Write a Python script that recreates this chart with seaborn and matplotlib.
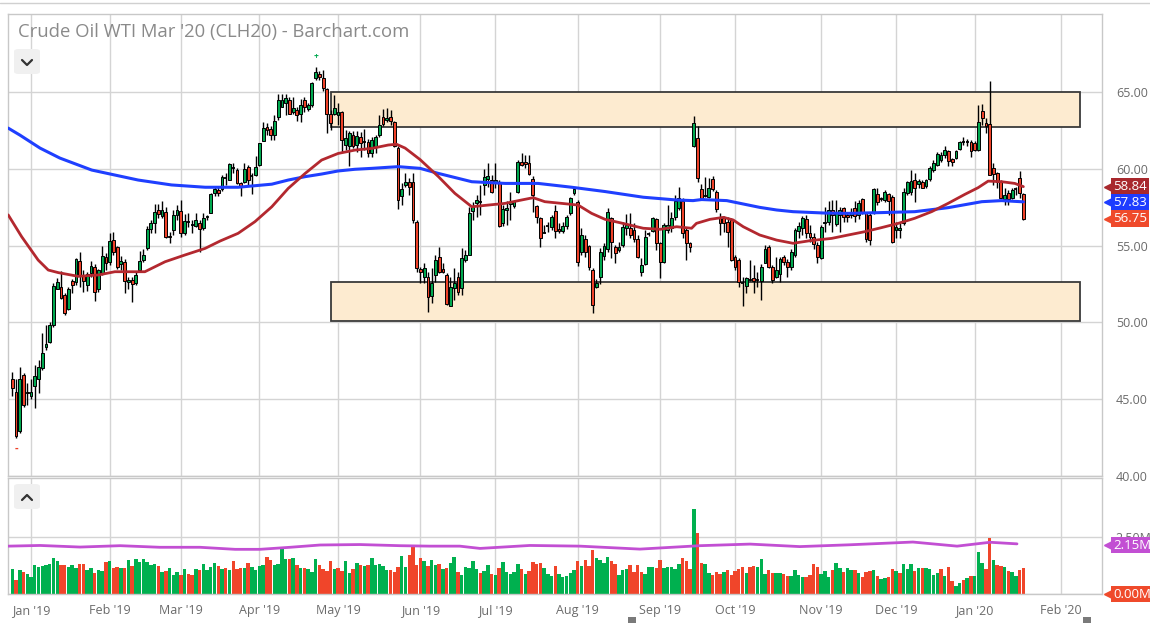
import numpy as np
import pandas as pd
import seaborn as sns
import matplotlib.pyplot as plt
import matplotlib.transforms as mtransforms
from matplotlib.patches import Rectangle, FancyBboxPatch
from matplotlib.lines import Line2D

sns.set_theme(style="white")
plt.rcParams['font.family'] = ['Open Sans', 'DejaVu Sans']

# ---- data ----
title = "Crude Oil WTI Mar '20 (CLH20) - Barchart.com"
first_day, last_day = '2018-12-24', '2020-01-22'
holidays = ['2018-12-25', '2019-01-01', '2019-01-21', '2019-02-18', '2019-04-19',
            '2019-05-27', '2019-07-04', '2019-09-02', '2019-11-28', '2019-12-25',
            '2020-01-01', '2020-01-20']

opens = [
    46.3, 45.5, 42.9, 46.6, 45.5, 45.2, 45.86, 46.3, 47.0, 48.4,
    48.75, 49.8, 52.2, 52.3, 51.8, 50.85, 52.7, 52.6, 54.0, 53.0,
    52.43, 53.2, 53.6, 52.15, 53.24, 54.28, 53.95, 55.37, 54.9, 53.78,
    53.95, 52.6, 52.75, 52.55, 53.4, 54.06, 54.84, 56.1, 56.47, 57.32,
    56.9, 57.2, 55.62, 56.0, 57.0, 57.27, 55.84, 56.58, 56.36, 56.28,
    56.45, 56.13, 56.85, 57.15, 58.4,
    58.6, 58.7, 59.42, 59.3, 60.05, 59.9, 59.05, 59.16, 60.15, 59.52,
    59.58, 60.25, 61.84, 62.72, 62.6, 62.2, 63.4, 64.05, 64.27, 64.5,
    63.7, 63.8, 63.6, 64.5, 63.87, 64.15, 65.9, 66.2, 65.9, 65.17,
    63.57, 63.57, 63.5, 63.68, 61.55, 61.47, 62.2, 61.55, 62.1, 61.79,
    61.77, 61.0, 61.4, 62.2, 63.35, 63.18, 63.35, 63.07, 61.33, 58.23,
    58.95, 59.17, 59.17,
    56.56, 53.46, 52.95, 52.94, 51.72, 53.09, 54.28, 53.46, 53.09, 51.07,
    52.22, 52.94, 52.22, 54.06, 54.39, 57.28, 57.75, 57.88, 58.95, 59.32,
    59.24, 59.06, 59.17, 56.5, 57.3, 57.71, 57.58, 58.52, 60.47, 60.47,
    60.36, 59.32, 57.58, 56.78, 55.86, 56.3, 56.19, 57.28, 56.1, 55.98,
    56.28, 57.1, 58.41, 57.86, 54.6, 55.4, 54.97, 53.41, 52.33, 52.94,
    54.32, 54.77, 56.78, 54.93,
    54.71, 55.04, 56.12, 56.12, 56.0, 55.4, 53.3, 53.8, 55.78, 55.93,
    56.73, 55.2, 53.95, 56.02, 56.12, 56.84, 57.43, 57.93, 56.0, 55.2,
    61.48, 62.0, 58.66, 58.25, 58.15, 59.32, 58.52, 56.84, 56.78, 56.56,
    56.67, 54.28, 54.06, 52.57, 52.37, 52.78, 52.87, 52.75, 52.71, 53.89,
    54.93, 53.63, 52.97, 53.15, 54.28, 53.95, 53.63, 54.39, 55.98, 56.12,
    56.73, 55.84, 55.58, 55.04, 54.17,
    56.45, 56.56, 57.32, 56.4, 57.0, 57.43, 57.0, 56.99, 57.43, 56.99,
    58.03, 57.1, 56.99, 57.1, 58.34, 58.05, 57.97, 58.34, 58.19, 56.02,
    56.02, 56.45, 58.41, 58.52, 59.27, 58.99, 59.12, 58.9, 59.34, 59.92,
    60.25, 60.57, 60.87, 61.16, 60.64, 60.7, 61.29, 61.77, 61.77, 61.75,
    61.68, 61.23, 63.76, 62.96, 62.92, 60.03, 59.7, 59.12, 58.03, 58.41,
    58.13, 58.7, 59.38, 58.34]

highs = [
    46.8, 46.3, 47.1, 46.7, 46.05, 46.3, 47.2, 47.55, 49.3, 49.8,
    50.05, 52.55, 52.9, 53.35, 51.9, 52.3, 52.8, 54.17, 54.6, 53.4,
    53.3, 54.0, 53.8, 53.46, 54.97, 54.5, 55.8, 55.9, 54.98, 54.3,
    54.1, 52.97, 52.97, 53.3, 54.65, 54.8, 56.28, 56.7, 57.7, 57.7,
    57.9, 57.5, 55.9, 57.3, 57.64, 57.97, 57.06, 57.1, 56.67, 57.1,
    56.7, 57.1, 57.0, 58.4, 58.83,
    58.8, 59.6, 59.7, 60.36, 60.36, 60.03, 59.16, 60.36, 60.27, 59.7,
    60.83, 61.7, 63.07, 62.96, 62.77, 63.5, 64.9, 64.87, 64.9, 64.65,
    64.65, 64.04, 64.53, 64.65, 64.3, 65.67, 66.6, 66.4, 66.43, 65.24,
    63.83, 64.8, 64.26, 63.74, 62.53, 62.48, 62.48, 62.48, 62.4, 62.57,
    61.92, 62.1, 62.2, 63.5, 63.9, 63.96, 63.8, 63.13, 61.48, 59.1,
    59.7, 59.4, 59.7,
    56.67, 53.63, 53.85, 53.3, 53.52, 54.39, 54.93, 53.85, 53.2, 52.97,
    53.52, 53.3, 54.82, 54.71, 57.53, 57.86, 58.3, 58.95, 59.97, 60.41,
    59.6, 60.36, 59.27, 57.64, 57.9, 58.52, 58.0, 60.57, 61.02, 60.9,
    60.9, 59.5, 57.64, 56.89, 56.34, 56.56, 56.99, 57.64, 56.45, 56.56,
    56.99, 58.19, 58.84, 57.97, 56.12, 55.69, 55.04, 53.52, 52.8, 54.82,
    55.15, 57.43, 56.89, 55.04,
    55.26, 56.56, 57.06, 57.15, 56.45, 55.69, 54.17, 56.0, 55.9, 56.89,
    56.78, 55.26, 56.45, 57.64, 57.2, 58.3, 58.8, 58.08, 56.12, 55.26,
    63.44, 62.77, 59.0, 59.48, 59.38, 59.5, 58.62, 57.1, 56.93, 56.84,
    56.78, 54.39, 54.17, 52.97, 52.97, 54.06, 53.74, 53.3, 53.8, 55.04,
    55.04, 53.74, 54.28, 54.28, 54.39, 54.1, 54.77, 56.12, 56.56, 56.93,
    56.99, 56.34, 55.84, 55.26, 56.34,
    57.53, 57.9, 57.97, 57.97, 57.53, 57.53, 57.18, 57.47, 57.9, 57.97,
    58.08, 57.2, 57.1, 58.77, 58.74, 58.19, 58.62, 58.41, 58.3, 56.56,
    56.45, 58.77, 59.2, 59.92, 59.7, 59.34, 59.27, 59.34, 60.2, 60.57,
    61.07, 61.07, 61.5, 61.23, 60.72, 61.23, 61.84, 62.1, 61.95, 61.9,
    61.79, 64.15, 64.2, 63.28, 65.72, 60.36, 59.8, 59.27, 58.77, 58.62,
    58.77, 58.84, 59.86, 58.41]

lows = [
    45.2, 42.5, 42.8, 44.5, 44.6, 45.0, 44.45, 45.4, 46.9, 48.2,
    48.65, 49.7, 52.2, 51.5, 50.5, 50.8, 51.93, 52.43, 52.3, 52.0,
    52.06, 52.97, 51.4, 52.0, 53.1, 53.4, 53.74, 54.39, 53.46, 53.4,
    51.9, 52.2, 51.35, 52.43, 53.3, 53.95, 54.7, 55.8, 55.85, 56.78,
    56.8, 55.5, 55.15, 55.7, 56.7, 55.58, 55.7, 56.23, 55.8, 56.2,
    54.6, 56.0, 56.7, 57.1, 58.2,
    58.2, 58.57, 58.95, 59.27, 59.7, 59.0, 58.26, 59.1, 58.95, 58.34,
    59.5, 60.18, 61.78, 62.2, 61.9, 61.9, 63.2, 64.0, 63.5, 63.55,
    63.6, 63.13, 63.07, 63.68, 63.74, 64.04, 65.78, 65.78, 65.06, 62.35,
    62.53, 63.5, 62.85, 61.1, 61.2, 60.18, 61.35, 61.1, 60.8, 61.2,
    60.8, 60.8, 61.0, 62.1, 62.77, 63.07, 62.85, 61.4, 57.36, 57.64,
    58.84, 58.3, 56.45,
    53.3, 52.55, 52.55, 50.7, 51.28, 52.65, 53.2, 53.2, 51.13, 51.04,
    51.46, 51.78, 51.78, 53.95, 54.39, 56.67, 56.89, 56.99, 58.3, 58.84,
    58.41, 58.74, 56.2, 56.28, 56.34, 56.67, 57.43, 58.41, 60.16, 60.05,
    59.6, 57.2, 56.45, 54.93, 55.8, 55.91, 56.0, 55.47, 55.8, 55.84,
    56.1, 56.99, 58.3, 53.67, 54.39, 54.28, 53.4, 50.64, 52.22, 52.5,
    54.06, 54.6, 54.17, 53.89,
    54.6, 54.93, 55.69, 55.47, 55.26, 54.17, 53.0, 53.74, 55.6, 55.87,
    54.71, 52.87, 53.85, 55.84, 55.91, 56.67, 57.32, 55.47, 54.06, 54.56,
    61.44, 59.16, 57.97, 58.15, 58.08, 58.57, 57.2, 55.69, 55.91, 54.93,
    54.02, 53.41, 52.33, 51.07, 51.93, 52.7, 51.9, 52.3, 51.46, 53.85,
    53.52, 52.55, 52.87, 52.65, 53.74, 52.97, 53.41, 54.28, 55.47, 55.69,
    55.47, 55.26, 54.77, 53.85, 54.1,
    55.91, 56.34, 55.91, 56.3, 55.91, 56.56, 56.56, 56.78, 56.56, 56.73,
    57.04, 55.26, 55.04, 57.04, 57.64, 57.9, 57.84, 56.99, 55.15, 55.47,
    55.5, 56.34, 58.3, 58.3, 57.84, 58.73, 58.73, 58.73, 59.2, 59.8,
    60.16, 60.47, 60.72, 60.16, 60.2, 60.64, 61.23, 61.55, 61.5, 60.8,
    61.16, 61.16, 62.85, 62.3, 59.6, 58.95, 58.77, 58.08, 57.64, 57.64,
    58.03, 58.3, 58.13, 56.67]

closes = [
    45.7, 42.6, 46.3, 44.6, 45.4, 45.45, 46.5, 47.1, 48.0, 48.6,
    49.8, 52.4, 52.6, 51.6, 50.6, 52.15, 52.43, 54.1, 53.1, 52.7,
    53.15, 53.7, 52.0, 53.4, 54.3, 53.85, 55.3, 54.6, 53.63, 54.0,
    52.7, 52.76, 52.48, 53.1, 54.0, 54.4, 56.06, 56.5, 57.2, 57.04,
    57.32, 55.58, 55.58, 57.0, 57.3, 55.84, 56.62, 56.56, 56.34, 56.7,
    56.1, 56.8, 56.9, 58.34, 58.66,
    58.45, 59.48, 59.4, 60.3, 60.03, 59.1, 58.84, 59.99, 59.3, 59.5,
    60.15, 61.66, 62.63, 62.5, 62.2, 63.13, 64.5, 64.5, 64.6, 63.6,
    63.94, 63.5, 64.15, 64.05, 64.15, 65.6, 66.3, 65.95, 65.24, 63.6,
    63.0, 63.94, 63.7, 61.9, 61.98, 62.3, 61.47, 62.15, 61.7, 61.77,
    61.05, 61.88, 62.05, 62.85, 62.9, 63.3, 63.13, 61.48, 57.97, 58.66,
    59.17, 58.84, 56.67,
    53.52, 53.3, 53.52, 51.67, 52.58, 54.06, 53.3, 53.3, 51.2, 52.32,
    52.58, 52.0, 54.17, 54.39, 57.1, 57.5, 57.97, 57.86, 59.45, 59.54,
    58.52, 59.27, 56.28, 57.36, 57.45, 57.86, 57.93, 60.47, 60.25, 60.31,
    59.66, 58.3, 56.84, 55.47, 55.84, 56.28, 56.84, 55.98, 55.98, 56.28,
    56.89, 58.08, 58.66, 53.95, 55.69, 54.56, 53.63, 51.13, 52.58, 54.56,
    54.97, 57.2, 55.25, 54.5,
    54.93, 56.23, 56.34, 55.69, 55.4, 54.28, 53.74, 55.58, 55.76, 56.78,
    55.2, 53.95, 56.34, 56.34, 56.78, 57.93, 58.08, 55.8, 55.2, 54.9,
    62.96, 59.38, 58.08, 58.23, 58.74, 58.66, 57.36, 56.5, 56.5, 55.91,
    54.06, 53.63, 52.65, 52.55, 52.87, 52.76, 52.71, 52.78, 53.63, 54.77,
    53.63, 52.76, 53.41, 54.1, 53.95, 53.58, 54.6, 56.0, 56.28, 56.78,
    55.84, 55.58, 55.1, 54.23, 56.23,
    56.56, 57.32, 56.99, 57.2, 57.32, 56.89, 56.89, 57.1, 56.95, 57.75,
    57.18, 55.43, 55.36, 58.68, 57.82, 58.03, 58.48, 57.9, 55.26, 56.23,
    56.17, 58.48, 59.17, 59.21, 58.77, 59.21, 58.77, 59.27, 60.07, 60.36,
    60.94, 60.9, 61.23, 60.5, 60.47, 61.16, 61.77, 61.75, 61.75, 61.16,
    61.23, 63.07, 63.33, 62.81, 59.6, 59.64, 59.12, 58.13, 58.3, 58.03,
    58.62, 58.68, 58.41, 56.75]

# daily volume, millions of contracts
volume = [
    1.10, 0.61, 1.05, 0.96, 0.88, 0.73, 1.27, 1.18, 1.23, 1.29,
    1.32, 1.58, 1.45, 1.27, 1.27, 1.17, 1.27, 1.14, 1.32, 1.32,
    1.05, 1.14, 0.92, 1.05, 1.00, 1.40, 1.45, 1.14, 1.18, 1.14,
    1.14, 1.49, 1.23, 1.54, 1.40, 1.54, 1.40, 1.27, 1.32, 1.23,
    0.96, 1.01, 1.14, 0.83, 0.96, 0.83, 1.10, 0.88, 0.83, 1.10,
    1.05, 1.32, 1.05, 1.18, 1.36, 1.23, 1.10, 1.14, 1.05, 1.45,
    1.10, 1.14, 1.14, 1.36, 1.18, 1.05, 1.23, 1.27, 1.62, 1.49,
    1.27, 1.32, 1.97, 1.54, 1.54, 1.58, 1.27, 1.14, 1.14, 1.10,
    0.96, 1.54, 1.27, 1.10, 1.01, 1.45, 1.10, 1.14, 1.01, 1.45,
    0.92, 1.10, 1.36, 1.27, 1.23, 1.27, 1.58, 1.27, 1.32, 1.23,
    1.05, 1.05, 0.96, 1.18, 1.67,
    1.18, 1.71, 2.06, 1.27, 1.58, 1.45, 1.23, 1.49, 1.27, 1.32,
    1.10, 1.14, 1.36, 1.62, 0.96, 0.83, 1.18, 1.14, 1.45, 1.10,
    0.92, 1.01, 1.27, 0.88, 0.83, 1.14, 1.40, 0.96, 0.88,
    0.96, 1.32, 1.10, 0.88, 1.01, 1.40, 1.32, 1.36, 1.14, 0.88,
    0.79, 1.23, 0.88, 0.75, 0.79, 0.92, 1.05, 1.45, 1.23, 1.49,
    1.23, 1.93, 1.58, 1.49, 1.36, 1.62, 1.45, 1.32, 0.83, 1.05,
    1.10, 1.27, 0.96, 1.27, 0.96, 0.88, 1.18, 1.18, 1.14, 1.49,
    1.14, 1.18, 1.18, 1.10, 1.32, 1.58, 1.45, 1.10, 3.73, 2.68,
    1.36, 1.32, 0.92, 0.83, 0.96, 0.88, 0.96, 1.05, 0.83, 1.01,
    1.10, 1.18, 0.92, 1.18, 1.23, 1.18, 1.54, 0.88, 1.05, 0.92,
    0.92, 0.92, 0.88, 0.79, 0.79, 1.05,
    0.83, 0.75, 0.75, 0.83, 1.32, 1.18, 0.88, 1.01, 0.75, 1.05,
    1.36, 1.14, 0.96, 1.14, 1.05, 1.05, 0.92, 0.75, 0.96, 1.01,
    1.05, 0.79, 0.66, 0.70, 0.75, 1.10, 1.01, 0.92, 1.32, 1.10,
    1.32, 1.01, 1.14, 1.14, 1.14, 1.11, 0.83, 0.92, 1.10, 0.79,
    1.18, 0.57, 0.35, 0.48, 0.61, 0.70, 0.79, 0.79, 1.84, 1.36,
    1.10, 2.46, 1.49, 1.27, 1.23, 1.18, 1.01, 0.96, 0.79, 1.05, 1.14]

# moving averages sampled along the bars (bar index, value)
ma50_pos = [-1.1, 2.5, 6.9, 9.6, 12.3, 17.6, 23.0, 27.4, 31.9, 35.4,
            40.8, 46.1, 51.5, 55.5, 60.3, 64.8, 69.3, 73.7, 78.2, 82.6,
            87.0, 91.5, 96.0, 100.4, 102.6, 104.9, 108.9, 113.8, 118.2, 122.7,
            127.1, 131.6, 136.0, 139.1, 142.2, 146.7, 151.1, 154.7, 158.3, 162.3,
            168.5, 173.0, 177.4, 181.4, 182.7, 186.3, 189.9, 192.5, 195.2, 199.6,
            204.1, 208.5, 213.0, 218.8, 223.2, 227.7, 232.1, 236.6, 241.0, 245.5,
            249.9, 254.4, 257.9, 260.6, 264.2, 267.7, 270.0]
ma50_val = [57.0, 55.58, 54.06, 53.41, 53.24, 53.0, 53.09, 53.3, 53.3, 53.3,
            53.95, 54.39, 54.82, 55.3, 55.8, 56.56, 57.53, 58.73, 59.7, 60.57,
            61.0, 61.22, 61.33, 61.55, 61.6, 61.35, 60.6, 59.49, 58.4, 57.53,
            57.64, 57.75, 57.97, 58.12, 57.86, 57.75, 57.64, 57.1, 56.71, 56.49,
            56.13, 56.06, 56.23, 56.13, 56.45, 56.71, 56.84, 56.67, 56.23, 55.69,
            55.36, 55.15, 55.32, 55.47, 55.69, 55.91, 56.17, 56.45, 56.78, 57.21,
            57.75, 58.34, 58.77, 59.2, 59.16, 59.05, 58.84]
ma200_pos = [-1.1, 2.0, 7.4, 12.7, 21.2, 33.6, 42.5, 51.5, 60.3, 69.3,
             73.7, 78.2, 82.6, 87.0, 91.5, 96.0, 100.4, 103.1, 108.9, 113.8,
             122.7, 131.6, 140.4, 149.4, 158.3, 168.5, 177.4, 181.8, 184.1, 190.8,
             195.2, 199.6, 204.1, 208.5, 217.0, 223.2, 232.1, 241.0, 249.9, 258.9,
             264.2, 270.0]
ma200_val = [62.65, 62.2, 61.35, 60.7, 59.92, 59.27, 58.95, 58.8, 58.8, 59.0,
             59.27, 59.49, 59.66, 59.86, 59.97, 60.03, 60.1, 60.14, 60.03, 59.7,
             59.16, 59.05, 59.05, 58.8, 58.52, 58.15, 57.97, 57.93, 58.0, 57.93,
             57.71, 57.49, 57.32, 57.21, 57.12, 57.1, 57.15, 57.21, 57.47, 57.86,
             57.93, 57.85]
vol_avg_pos = [-1.1, 7.4, 18.1, 28.8, 39.4, 50.1, 59.5, 66.1, 74.2, 82.2,
               92.8, 103.5, 111.5, 119.5, 124.9, 138.2, 151.6, 167.6, 183.6, 197.0,
               210.3, 223.7, 240.5, 252.3, 261.1, 268.3]
vol_avg_val = [2.10, 2.13, 2.06, 2.12, 2.05, 2.05, 1.96, 1.96, 2.05, 2.15,
               2.17, 2.12, 2.10, 2.10, 2.00, 2.13, 2.10, 1.97, 2.12, 2.19,
               2.08, 2.16, 2.28, 2.10, 2.27, 2.20]

zone_top = (62.72, 65.0)
zone_bottom = (50.09, 52.63)
zone_from, zone_to = '2019-04-29', '2020-02-06'

last_ma50, last_ma200, last_close, last_vol_avg = 58.84, 57.83, 56.75, 2.15

# ---- prep ----
dates = pd.bdate_range(first_day, last_day, freq='C', holidays=holidays)
n = len(dates)
idx = np.arange(n)
o, h, l, c = map(np.array, (opens, highs, lows, closes))
vol = np.array(volume)


def to_x(day):
    day = pd.Timestamp(day)
    if day <= dates[-1]:
        return float(dates.searchsorted(day))
    return float(n - 1 + (day - dates[-1]).days)


months = pd.date_range('2019-01-01', '2020-02-01', freq='MS')
month_pos = [to_x(m) for m in months]
month_lab = [m.strftime("%b '%y") for m in months]

GREEN, RED = '#00a84f', '#ee4128'
GRID = '#d4d4d4'
TXT = '#6b6b6b'

W, H = 1150, 623
fig = plt.figure(figsize=(W / 100, H / 100), dpi=100)
fig.patch.set_facecolor('white')


def fx(px):
    return px / W


def fy(py):
    return 1 - py / H


ax = fig.add_axes([fx(8), fy(476), fx(1102) - fx(8), fy(14) - fy(476)])
axv = fig.add_axes([fx(8), fy(594), fx(1102) - fx(8), fy(478) - fy(594)], sharex=ax)

for a in (ax, axv):
    a.set_facecolor('white')
    for s in a.spines.values():
        s.set_color('#c8c8c8')
        s.set_linewidth(1)
    a.set_xticks(month_pos)
    a.grid(True, axis='both', color=GRID, lw=1)
    a.set_axisbelow(True)

ax.set_xlim(-1.15, 291.0)
ax.set_ylim(40, 70.08)
ax.set_yticks([40, 45, 50, 55, 60, 65])
ax.set_yticklabels([f'{v:.2f}' for v in [40, 45, 50, 55, 60, 65]])
ax.yaxis.tick_right()
ax.tick_params(axis='y', length=0, pad=10, labelsize=9, labelcolor=TXT)
ax.tick_params(axis='x', length=0, labelbottom=False)

# support / resistance zones
x0, x1 = to_x(zone_from), to_x(zone_to)
for lo, hi in (zone_top, zone_bottom):
    ax.add_patch(Rectangle((x0, lo), x1 - x0, hi - lo, facecolor='#fdebd0',
                           edgecolor='#3a3a3a', lw=1.3, zorder=1))

# candles
up = c > o + 0.03
dn = c < o - 0.03
doji = ~(up | dn)
ax.vlines(idx, l, h, color='black', lw=1, zorder=3)
body_col = np.where(up, GREEN, RED)
nb = ~doji
ax.bar(idx[nb], np.abs(c - o)[nb], bottom=np.minimum(o, c)[nb], width=0.75,
       color=body_col[nb], edgecolor='black', linewidth=0.7, zorder=4)
ax.hlines(c[doji], idx[doji] - 0.4, idx[doji] + 0.4, color='black', lw=1.3, zorder=4)

# high / low markers
ax.annotate('+', (idx[h.argmax()], h.max()), xytext=(0, 5), textcoords='offset points',
            ha='center', va='bottom', color=GREEN, fontsize=6, fontweight='bold')
ax.annotate('-', (idx[l.argmin()], l.min()), xytext=(0, -4), textcoords='offset points',
            ha='center', va='top', color=RED, fontsize=8, fontweight='bold')

# moving averages
sns.lineplot(x=ma200_pos, y=ma200_val, ax=ax, color='#1f3fff', lw=2.2, sort=False, zorder=5)
sns.lineplot(x=ma50_pos, y=ma50_val, ax=ax, color='#b3282f', lw=2.0, sort=False, zorder=5)
ax.set_xlabel('')
ax.set_ylabel('')

# volume panel
prev = np.r_[c[0], c[:-1]]
vcol = np.where(c >= prev, '#00b04f', '#f0452a')
axv.bar(idx, vol, width=0.92, color=vcol, linewidth=0, zorder=2)
sns.lineplot(x=vol_avg_pos, y=vol_avg_val, ax=axv, color='#c24fd3', lw=2.0, sort=False, zorder=3)
axv.set_ylim(0, 5.09)
axv.set_yticks([0, 2.5])
axv.set_yticklabels(['', '2.50M'])
axv.yaxis.tick_right()
axv.tick_params(axis='y', length=0, pad=10, labelsize=9, labelcolor=TXT)
axv.set_xticklabels(month_lab)
axv.tick_params(axis='x', length=4, color='#c8c8c8', pad=3, labelsize=9, labelcolor=TXT)
axv.set_xlabel('')
axv.set_ylabel('')
ax.set_xlim(-1.15, 291.0)


def tag(a, val, text, color):
    tr = mtransforms.blended_transform_factory(a.transAxes, a.transData)
    xa = (1113 - 8) / (1102 - 8)
    xt = (1108.5 - 8) / (1102 - 8)
    a.plot([xt], [val], marker='<', ms=7.5, color=color, transform=tr, clip_on=False, zorder=10)
    a.text(xa, val, text, transform=tr, ha='left', va='center', fontsize=9.5, color='white',
           clip_on=False, zorder=11,
           bbox=dict(boxstyle='square,pad=0.15', facecolor=color, edgecolor='none'))


tag(ax, last_ma50, f'{last_ma50:.2f}', '#a8282d')
tag(ax, last_ma200, f'{last_ma200:.2f}', '#1d3cff')
tag(ax, last_close, f'{last_close:.2f}', '#ef4a2b')
tag(axv, last_vol_avg, f'{last_vol_avg:.2f}M', '#c24fd3')
tag(axv, 0, '0.00M', '#ef4a2b')

# title and chart furniture
fig.text(fx(18), fy(32), title, ha='left', va='center', fontsize=13.3, color='#8a8a8a')
fig.add_artist(Line2D([0, 1], [fy(3), fy(3)], color='#d0d0d0', lw=1))
for top, pts in ((49, [(22, 60), (27, 65), (32, 60)]), (484, [(22, 500), (27, 495), (32, 500)])):
    fig.add_artist(FancyBboxPatch((fx(14), fy(top + 25)), fx(26), fy(top) - fy(top + 25),
                                  boxstyle='round,pad=0,rounding_size=0.004',
                                  facecolor='#f0f0f0', edgecolor='none'))
    fig.add_artist(Line2D([fx(p[0]) for p in pts], [fy(p[1]) for p in pts],
                          color='#333333', lw=1.6))
for px in (632, 1087):
    fig.add_artist(Rectangle((fx(px - 4), fy(623)), fx(8), fy(617) - fy(623),
                             facecolor='#7a7a7a', edgecolor='none'))

fig.savefig('out.png', dpi=100)
